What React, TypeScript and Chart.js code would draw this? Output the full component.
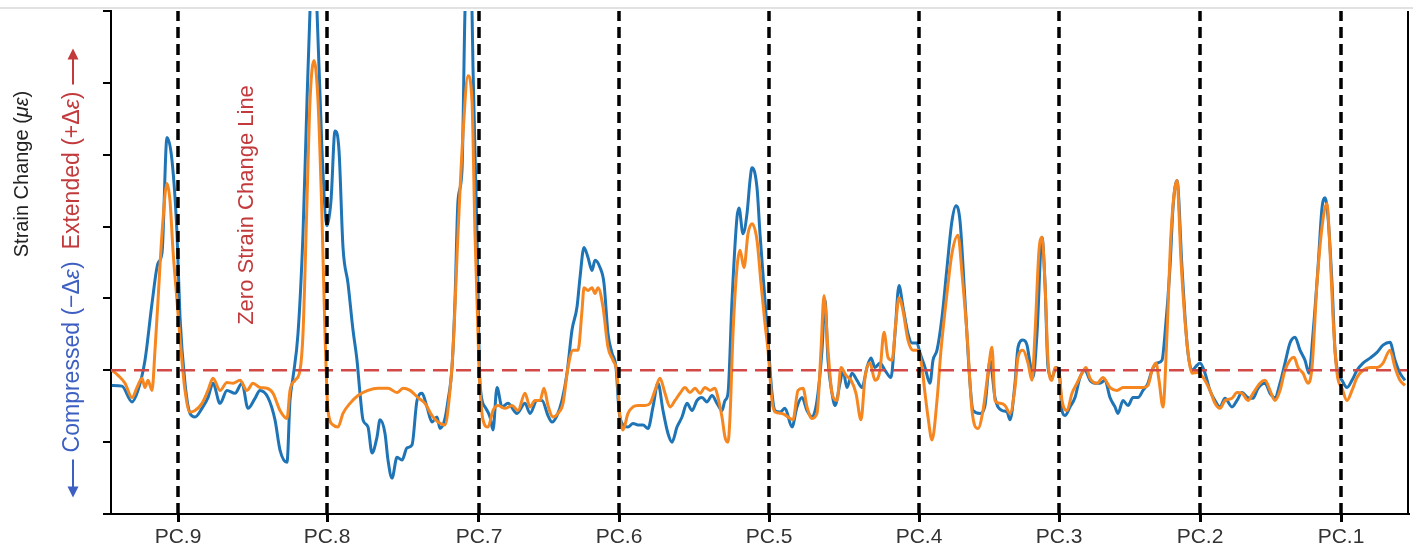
import React, { useEffect, useRef } from 'react';
import { Chart, registerables } from 'chart.js';

Chart.register(...registerables);

// ---------- data ----------
const pcLabels = ['PC.9', 'PC.8', 'PC.7', 'PC.6', 'PC.5', 'PC.4', 'PC.3', 'PC.2', 'PC.1'];
const pcPositions = [67, 216, 368, 508, 658, 808, 948, 1089, 1230];
const xMax = 1297;
const yMin = -2;
const yMax = 5;

const blueX = [1, 11, 21, 27, 34, 41, 47, 51, 56, 61, 66, 69, 74, 79, 84, 91, 97, 102, 109, 116, 124, 131, 137, 144, 149, 157, 164, 169, 176, 179, 182, 187, 192, 196, 199, 202, 206, 211, 216, 220, 224, 228, 232, 237, 242, 246, 249, 252, 257, 261, 266, 269, 274, 277, 281, 286, 291, 296, 301, 306, 311, 316, 321, 326, 329, 334, 337, 341, 344, 347, 351, 354, 357, 361, 362, 366, 369, 374, 379, 382, 386, 391, 397, 406, 414, 419, 426, 431, 437, 441, 446, 451, 456, 461, 466, 469, 473, 477, 481, 484, 489, 493, 497, 501, 505, 508, 512, 517, 522, 527, 532, 537, 542, 547, 552, 557, 561, 566, 571, 576, 581, 586, 591, 596, 601, 606, 611, 614, 617, 621, 626, 628, 632, 636, 639, 641, 646, 649, 654, 657, 661, 664, 669, 674, 681, 686, 691, 696, 701, 706, 711, 714, 717, 721, 724, 729, 732, 736, 741, 746, 751, 756, 760, 764, 769, 774, 780, 784, 788, 792, 797, 801, 806, 809, 814, 819, 822, 826, 831, 836, 841, 845, 849, 854, 859, 862, 869, 874, 877, 879, 884, 891, 896, 899, 904, 907, 912, 916, 919, 922, 926, 931, 934, 937, 941, 945, 948, 951, 954, 959, 964, 969, 974, 979, 984, 989, 994, 999, 1004, 1007, 1012, 1017, 1022, 1027, 1032, 1037, 1041, 1046, 1051, 1054, 1059, 1062, 1066, 1071, 1074, 1077, 1081, 1086, 1089, 1094, 1099, 1104, 1109, 1114, 1121, 1126, 1131, 1137, 1142, 1147, 1154, 1159, 1164, 1169, 1174, 1179, 1184, 1189, 1194, 1198, 1202, 1207, 1211, 1214, 1217, 1221, 1224, 1227, 1231, 1236, 1241, 1246, 1252, 1259, 1266, 1272, 1279, 1284, 1289, 1294];
const blueY = [-0.21, -0.22, -0.44, -0.28, 0.14, 0.93, 1.49, 1.63, 3.24, 2.92, 1.9, 0.74, -0.18, -0.6, -0.65, -0.53, -0.38, -0.18, -0.46, -0.28, -0.32, -0.18, -0.53, -0.39, -0.28, -0.38, -0.69, -1.11, -1.28, -0.42, -0.1, 0.51, 1.9, 3.75, 5.0, 5.8, 5.0, 3.06, 2.01, 2.36, 3.33, 3.06, 1.71, 1.21, 0.56, 0.14, -0.32, -0.69, -0.79, -1.15, -0.93, -0.69, -0.88, -1.25, -1.5, -1.21, -1.25, -1.08, -1.04, -0.42, -0.32, -0.51, -0.72, -0.65, -0.81, -0.67, -0.42, 0.04, 0.97, 2.36, 2.78, 5.0, 5.8, 5.0, 4.21, 1.9, -0.18, -0.51, -0.65, -0.83, -0.24, -0.51, -0.46, -0.6, -0.46, -0.6, -0.42, -0.42, -0.63, -0.72, -0.63, -0.42, -0.04, 0.56, 0.88, 1.29, 1.71, 1.57, 1.39, 1.53, 1.43, 1.21, 0.51, 0.24, 0.04, -0.56, -0.76, -0.79, -0.74, -0.76, -0.76, -0.81, -0.51, -0.18, -0.56, -0.88, -1.0, -0.79, -0.65, -0.46, -0.56, -0.42, -0.38, -0.44, -0.35, -0.46, -0.56, -0.42, -0.32, 0.97, 2.13, 2.26, 1.9, 2.18, 2.64, 2.82, 2.54, 1.9, 0.97, 0.42, -0.32, -0.56, -0.58, -0.53, -0.79, -0.51, -0.38, -0.56, -0.65, -0.42, 0.28, 0.97, 0.14, -0.32, -0.49, -0.18, 0.0, -0.24, -0.04, -0.14, -0.24, 0.04, 0.17, 0.04, 0.1, 0.0, -0.1, 0.51, 1.18, 0.88, 0.51, 0.38, 0.38, 0.24, 0.04, -0.18, 0.14, 0.28, 0.74, 1.43, 2.08, 2.29, 2.08, 0.97, -0.18, -0.56, -0.6, -0.49, -0.07, 0.14, -0.38, -0.56, -0.58, -0.69, -0.18, 0.32, 0.42, 0.35, 0.1, -0.1, 0.51, 1.85, 1.21, 0.04, -0.1, 0.04, 0.0, -0.56, -0.63, -0.51, -0.38, -0.1, 0.0, -0.14, -0.18, -0.18, -0.14, -0.38, -0.51, -0.6, -0.42, -0.49, -0.38, -0.38, -0.28, -0.18, 0.0, 0.1, 0.14, 0.51, 1.43, 2.26, 2.64, 1.43, 0.74, 0.24, 0.0, 0.07, 0.1, -0.04, -0.28, -0.42, -0.51, -0.39, -0.51, -0.42, -0.31, -0.38, -0.39, -0.25, -0.18, -0.32, -0.38, -0.18, 0.1, 0.38, 0.46, 0.28, 0.14, -0.04, 0.51, 1.43, 2.26, 2.4, 2.13, 1.21, 0.28, -0.04, -0.14, -0.24, -0.14, 0.0, 0.1, 0.17, 0.25, 0.35, 0.39, 0.14, -0.04, -0.14];

const orangeX = [1, 7, 14, 21, 26, 31, 34, 37, 41, 44, 47, 51, 56, 59, 62, 66, 70, 74, 79, 84, 91, 97, 102, 109, 116, 122, 129, 136, 142, 149, 156, 162, 169, 176, 179, 184, 189, 192, 196, 199, 203, 207, 211, 214, 217, 222, 227, 232, 239, 247, 257, 267, 277, 286, 292, 299, 307, 314, 321, 327, 334, 338, 342, 347, 352, 357, 361, 364, 368, 372, 377, 382, 387, 394, 401, 407, 414, 419, 424, 429, 433, 437, 442, 447, 452, 457, 462, 467, 471, 473, 477, 481, 484, 487, 492, 497, 502, 506, 509, 512, 517, 522, 527, 534, 539, 544, 549, 554, 559, 564, 569, 574, 579, 584, 589, 594, 599, 604, 607, 611, 614, 617, 619, 622, 626, 629, 633, 637, 641, 646, 650, 654, 657, 661, 664, 671, 677, 682, 687, 692, 696, 701, 706, 710, 713, 717, 721, 726, 730, 735, 740, 745, 750, 754, 759, 764, 769, 773, 777, 781, 785, 788, 792, 797, 802, 807, 811, 814, 817, 821, 826, 830, 836, 841, 847, 851, 856, 861, 867, 872, 877, 881, 884, 889, 894, 899, 904, 907, 912, 917, 921, 924, 928, 931, 934, 937, 941, 944, 948, 951, 956, 961, 966, 971, 975, 979, 986, 992, 999, 1006, 1012, 1019, 1026, 1032, 1037, 1041, 1045, 1048, 1052, 1056, 1060, 1066, 1070, 1074, 1078, 1081, 1087, 1092, 1099, 1104, 1109, 1114, 1121, 1126, 1131, 1137, 1142, 1149, 1154, 1159, 1164, 1169, 1174, 1179, 1183, 1187, 1192, 1197, 1201, 1206, 1211, 1216, 1219, 1222, 1226, 1231, 1236, 1241, 1246, 1252, 1259, 1266, 1272, 1279, 1284, 1289, 1294];
const orangeY = [0.0, -0.07, -0.18, -0.38, -0.24, -0.11, -0.24, -0.14, -0.28, 0.28, 0.97, 1.9, 2.6, 2.36, 1.67, 0.97, 0.28, -0.28, -0.58, -0.56, -0.46, -0.28, -0.11, -0.28, -0.17, -0.18, -0.14, -0.28, -0.18, -0.24, -0.25, -0.32, -0.56, -0.67, -0.28, -0.14, 0.0, 0.51, 2.36, 3.75, 4.31, 3.75, 2.13, 0.51, -0.56, -0.76, -0.79, -0.6, -0.46, -0.35, -0.28, -0.25, -0.25, -0.31, -0.25, -0.28, -0.38, -0.46, -0.63, -0.72, -0.76, -0.42, 0.28, 1.9, 3.29, 4.1, 3.75, 1.9, 0.04, -0.69, -0.79, -0.56, -0.49, -0.53, -0.49, -0.56, -0.32, -0.51, -0.42, -0.42, -0.25, -0.49, -0.65, -0.6, -0.46, 0.04, 0.28, 0.28, 0.83, 1.15, 1.11, 1.15, 1.07, 1.15, 0.88, 0.32, 0.14, -0.04, -0.65, -0.83, -0.6, -0.51, -0.49, -0.49, -0.46, -0.28, -0.11, -0.32, -0.51, -0.42, -0.32, -0.24, -0.31, -0.25, -0.32, -0.24, -0.28, -0.25, -0.38, -0.65, -0.93, -1.0, -0.65, 0.51, 1.43, 1.67, 1.43, 1.9, 2.04, 1.81, 1.21, 0.65, 0.28, -0.42, -0.58, -0.6, -0.65, -0.69, -0.28, -0.25, -0.51, -0.67, -0.6, 0.28, 1.04, 0.28, -0.32, -0.42, 0.04, -0.07, -0.14, -0.32, -0.69, -0.1, 0.1, -0.14, 0.0, 0.53, 0.18, 0.14, 0.69, 1.01, 0.83, 0.42, 0.28, 0.28, 0.04, -0.32, -0.65, -0.97, -0.42, 0.28, 1.07, 1.63, 1.88, 1.35, 0.51, -0.56, -0.81, -0.56, -0.04, 0.32, -0.42, -0.46, -0.49, -0.6, -0.24, 0.18, 0.28, 0.1, -0.14, 0.51, 1.67, 1.85, 1.21, 0.14, -0.14, 0.04, -0.04, -0.42, -0.56, -0.32, -0.18, -0.04, 0.04, -0.11, -0.18, -0.1, -0.24, -0.28, -0.24, -0.24, -0.24, -0.24, -0.21, 0.0, 0.1, -0.14, -0.51, 0.51, 1.9, 2.64, 1.53, 0.69, 0.14, -0.04, -0.03, -0.1, -0.28, -0.46, -0.53, -0.42, -0.39, -0.31, -0.32, -0.42, -0.32, -0.18, -0.14, -0.28, -0.42, -0.28, 0.0, 0.14, 0.18, 0.04, -0.04, -0.18, 0.04, 1.21, 1.99, 2.32, 1.67, 0.74, -0.04, -0.25, -0.42, -0.28, -0.1, 0.0, 0.04, 0.04, 0.1, 0.28, 0.04, -0.14, -0.21];

// ---------- styling ----------
const FONT = "'Liberation Sans', Arial, Helvetica, sans-serif";
const BLUE = '#1f74b6';
const ORANGE = '#f6861f';
const ZERO_RED = '#d24a48';
const LABEL_BLUE = '#3d5fc2';
const LABEL_RED = '#c23a3c';

type Run = { text?: string; font?: string; color: string; arrow?: 'down' | 'up'; len?: number; gap?: number };

function runWidth(ctx: CanvasRenderingContext2D, r: Run) {
  if (r.arrow) return r.len || 0;
  if (r.gap !== undefined && !r.text) return r.gap;
  ctx.font = r.font!;
  return ctx.measureText(r.text!).width;
}

function drawVertical(ctx: CanvasRenderingContext2D, runs: Run[], cx: number, cy: number, mode: 'center' | 'start') {
  ctx.save();
  const total = runs.reduce((s, r) => s + runWidth(ctx, r), 0);
  ctx.translate(cx, cy);
  ctx.rotate(-Math.PI / 2);
  ctx.textBaseline = 'middle';
  ctx.textAlign = 'left';
  let pos = mode === 'center' ? -total / 2 : 0;
  for (const r of runs) {
    const w = runWidth(ctx, r);
    if (r.arrow) {
      ctx.strokeStyle = r.color;
      ctx.fillStyle = r.color;
      ctx.lineWidth = 2;
      const head = 11;
      ctx.beginPath();
      if (r.arrow === 'down') {
        ctx.moveTo(pos + head - 1, 0);
        ctx.lineTo(pos + w, 0);
        ctx.stroke();
        ctx.beginPath();
        ctx.moveTo(pos, 0);
        ctx.lineTo(pos + head, -5.5);
        ctx.lineTo(pos + head, 5.5);
        ctx.closePath();
        ctx.fill();
      } else {
        ctx.moveTo(pos, 0);
        ctx.lineTo(pos + w - head + 1, 0);
        ctx.stroke();
        ctx.beginPath();
        ctx.moveTo(pos + w, 0);
        ctx.lineTo(pos + w - head, -5.5);
        ctx.lineTo(pos + w - head, 5.5);
        ctx.closePath();
        ctx.fill();
      }
    } else if (r.text) {
      ctx.font = r.font!;
      ctx.fillStyle = r.color;
      ctx.fillText(r.text, pos, 0);
    }
    pos += w;
  }
  ctx.restore();
}

const sidePlugin = {
  id: 'sideText',
  afterDraw(chart: any) {
    const ctx: CanvasRenderingContext2D = chart.ctx;
    const { top, bottom, right } = chart.chartArea;
    ctx.save();
    ctx.strokeStyle = '#000';
    ctx.lineWidth = 2;
    ctx.beginPath();
    ctx.moveTo(right, top);
    ctx.lineTo(right, bottom + 1);
    ctx.stroke();
    ctx.restore();

    const n20 = `20px ${FONT}`;
    const i20 = `italic 20px ${FONT}`;
    const n22 = `22px ${FONT}`;
    const n23 = `23px ${FONT}`;
    const i23 = `italic 23px ${FONT}`;

    drawVertical(ctx, [
      { text: 'Strain Change (', font: n20, color: '#222' },
      { text: 'με', font: i20, color: '#222' },
      { text: ')', font: n20, color: '#222' },
    ], 22, 174, 'center');

    drawVertical(ctx, [
      { arrow: 'down', len: 38, color: LABEL_BLUE },
      { gap: 7, color: LABEL_BLUE },
      { text: 'Compressed (\u2212Δ', font: n23, color: LABEL_BLUE },
      { text: 'ε', font: i23, color: LABEL_BLUE },
      { text: ')', font: n23, color: LABEL_BLUE },
      { gap: 12, color: LABEL_RED },
      { text: 'Extended (+Δ', font: n23, color: LABEL_RED },
      { text: 'ε', font: i23, color: LABEL_RED },
      { text: ')', font: n23, color: LABEL_RED },
      { gap: 7, color: LABEL_RED },
      { arrow: 'up', len: 36, color: LABEL_RED },
    ], 73, 273, 'center');

    drawVertical(ctx, [
      { text: 'Zero Strain Change Line', font: n22, color: LABEL_RED },
    ], 247, 205, 'center');
  },
};

export default function App() {
  const ref = useRef<HTMLCanvasElement>(null);

  useEffect(() => {
    document.body.style.margin = '0';
    const canvas = ref.current!;
    const pts = (xs: number[], ys: number[]) => xs.map((x, i) => ({ x, y: ys[i] }));

    const pcSets = pcPositions.map((p) => ({
      label: '',
      data: [{ x: p, y: yMin }, { x: p, y: yMax }],
      borderColor: '#000',
      borderWidth: 3.5,
      borderDash: [11, 6],
      pointRadius: 0,
      tension: 0,
    }));

    const zeroSet = {
      label: 'Zero Strain Change Line',
      data: [{ x: 0, y: 0 }, { x: xMax, y: 0 }],
      borderColor: ZERO_RED,
      borderWidth: 2.5,
      borderDash: [15, 8],
      pointRadius: 0,
      tension: 0,
    };

    const orangeSet = {
      label: 'orange',
      data: pts(orangeX, orangeY),
      borderColor: ORANGE,
      borderWidth: 3,
      pointRadius: 0,
      cubicInterpolationMode: 'monotone' as const,
    };

    const blueSet = {
      label: 'blue',
      data: pts(blueX, blueY),
      borderColor: BLUE,
      borderWidth: 3,
      pointRadius: 0,
      cubicInterpolationMode: 'monotone' as const,
    };

    const chart = new Chart(canvas, {
      type: 'line',
      data: { datasets: [...pcSets, zeroSet, orangeSet, blueSet] as any },
      options: {
        responsive: false,
        animation: false,
        devicePixelRatio: 1,
        layout: { padding: { top: 11, right: 5, left: 0, bottom: 0 } },
        plugins: { legend: { display: false }, tooltip: { enabled: false } },
        scales: {
          x: {
            type: 'linear',
            min: 0,
            max: xMax,
            afterBuildTicks: (s: any) => {
              s.ticks = pcPositions.map((v) => ({ value: v }));
            },
            afterFit: (s: any) => {
              s.height = 40;
            },
            ticks: {
              autoSkip: false,
              maxRotation: 0,
              padding: 3,
              color: '#333',
              font: { family: FONT, size: 21 },
              callback: (v: any) => {
                const i = pcPositions.indexOf(Number(v));
                return i >= 0 ? pcLabels[i] : '';
              },
            },
            grid: { drawOnChartArea: false, drawTicks: true, tickLength: 8, color: '#000', lineWidth: 3 },
            border: { display: true, color: '#000', width: 2 },
          },
          y: {
            min: yMin,
            max: yMax,
            afterFit: (s: any) => {
              s.width = 111;
            },
            ticks: { stepSize: 1, display: false },
            grid: { drawOnChartArea: false, drawTicks: true, tickLength: 8, color: '#000', lineWidth: 2 },
            border: { display: true, color: '#000', width: 2 },
          },
        },
      },
      plugins: [sidePlugin],
    });
    return () => chart.destroy();
  }, []);

  return (
    <div style={{ position: 'relative', width: 1413, height: 554, background: '#fff' }}>
      <canvas ref={ref} width={1413} height={554} style={{ display: 'block', width: 1413, height: 554 }} />
      <div style={{ position: 'absolute', left: 0, top: 7, width: 1413, height: 2, background: '#e2e2e2' }} />
    </div>
  );
}
